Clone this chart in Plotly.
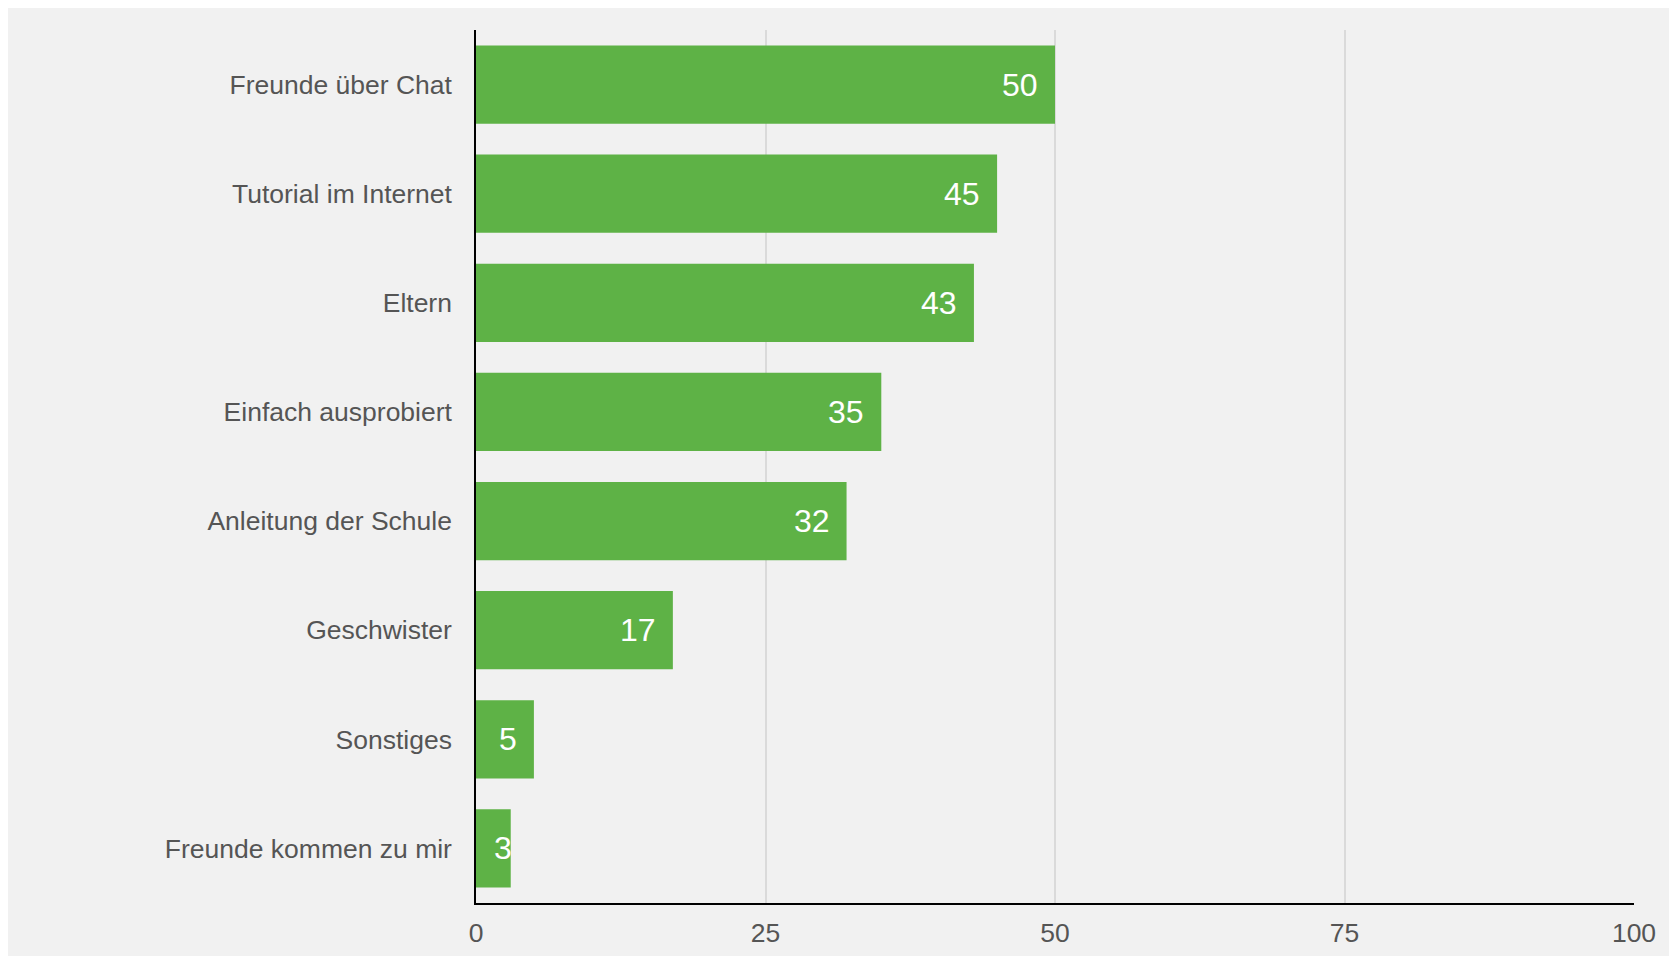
import plotly.graph_objects as go

categories = ["Freunde über Chat", "Tutorial im Internet", "Eltern", "Einfach ausprobiert",
              "Anleitung der Schule", "Geschwister", "Sonstiges", "Freunde kommen zu mir"]
values = [50, 45, 43, 35, 32, 17, 5, 3]
x_ticks = [0, 25, 50, 75, 100]

W, H = 1661, 948
L, R, T, B = 468, 35, 22, 53
plot_w = W - L - R
BG = "#f1f1f1"
GREEN = "#5eb246"
FONT = "Liberation Sans, Arial, sans-serif"

fig = go.Figure()
fig.add_trace(go.Bar(
    y=categories, x=values, orientation="h",
    marker=dict(color=GREEN, line=dict(width=0)),
    hoverinfo="skip",
))

# value labels inside bars
pad = 16
lab_size = 32
annotations = []
for c, v in zip(categories, values):
    bar_px = v * plot_w / x_ticks[-1]
    txt_w = len(str(v)) * 0.556 * lab_size
    if bar_px - pad - txt_w < pad:
        annotations.append(dict(x=0, y=c, text=str(v), xanchor="left", xshift=pad,
                                showarrow=False, yanchor="middle",
                                font=dict(color="white", size=lab_size, family=FONT)))
    else:
        annotations.append(dict(x=v, y=c, text=str(v), xanchor="right", xshift=-pad + 1,
                                showarrow=False, yanchor="middle",
                                font=dict(color="white", size=lab_size, family=FONT)))

fig.update_layout(
    width=W, height=H,
    margin=dict(l=L, r=R, t=T, b=B, pad=0, autoexpand=False),
    paper_bgcolor=BG,
    plot_bgcolor=BG,
    showlegend=False,
    bargap=0.284,
    font=dict(family=FONT, color="#555555", size=26.5),
    annotations=annotations,
    xaxis=dict(range=[0, 100], tickvals=x_ticks, ticktext=[str(t) for t in x_ticks],
               automargin=False,
               showgrid=True, gridcolor="#dadada", gridwidth=1.5,
               zeroline=False, showline=True, linecolor="black", linewidth=1.5,
               ticks="outside", ticklen=5, tickcolor="rgba(0,0,0,0)",
               tickfont=dict(size=26.5, color="#555555"), fixedrange=True),
    yaxis=dict(categoryorder="array", categoryarray=categories, autorange="reversed",
               automargin=False,
               showgrid=False, zeroline=False, showline=True, linecolor="black", linewidth=1.5,
               ticks="outside", ticklen=17, tickcolor="rgba(0,0,0,0)",
               tickfont=dict(size=26.5, color="#555555"), fixedrange=True),
)

fig.write_html("out.html")
